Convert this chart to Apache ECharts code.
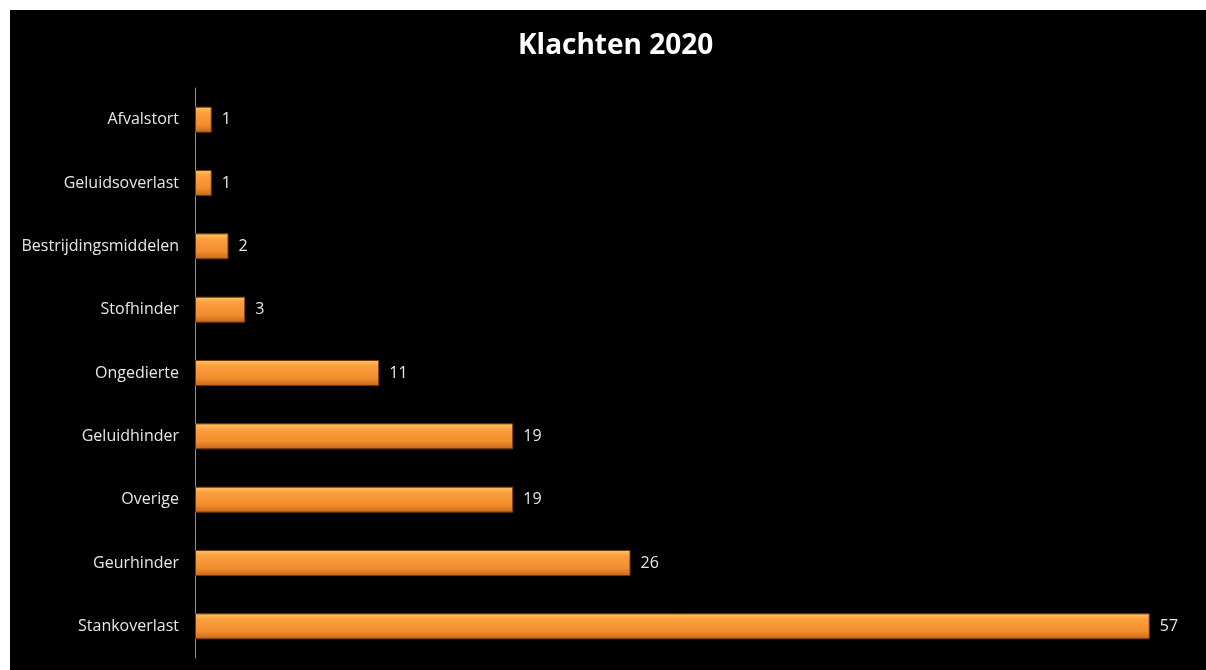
<!DOCTYPE html>
<html>
<head>
<meta charset="utf-8">
<script src="https://cdn.jsdelivr.net/npm/echarts@6/dist/echarts.min.js"></script>
<style>
  html, body { margin: 0; padding: 0; background: #fff; }
  #chart { position: absolute; left: 10px; top: 10px; width: 1196px; height: 660px; background: #000; }
</style>
</head>
<body>
<div id="chart"></div>
<script>
// bottom to top
const categories = ['Stankoverlast', 'Geurhinder', 'Overige', 'Geluidhinder', 'Ongedierte', 'Stofhinder', 'Bestrijdingsmiddelen', 'Geluidsoverlast', 'Afvalstort']
const values = [57, 26, 19, 19, 11, 3, 2, 1, 1]

const chart = echarts.init(document.getElementById('chart'))
const font = '"Open Sans", Lato, sans-serif'

chart.setOption({
  backgroundColor: '#000',
  animation: false,
  title: {
    text: 'Klachten 2020',
    left: 503,
    top: 17,
    textStyle: { color: '#fff', fontSize: 28, fontWeight: 'bold', fontFamily: font }
  },
  grid: { left: 185, right: 6, top: 78, bottom: 12 },
  xAxis: {
    type: 'value',
    min: 0,
    max: 60,
    show: false
  },
  yAxis: {
    type: 'category',
    data: categories,
    axisLine: { show: true, lineStyle: { color: '#8c8c8c', width: 1 } },
    axisTick: { show: false },
    axisLabel: { color: '#e6e6e6', fontSize: 16, fontFamily: font, margin: 16 }
  },
  series: [{
    type: 'bar',
    data: values,
    barWidth: '41%',
    itemStyle: {
      color: new echarts.graphic.LinearGradient(0, 0, 0, 1, [
        { offset: 0, color: '#ffc862' },
        { offset: 0.22, color: '#fba040' },
        { offset: 0.7, color: '#f28d2c' },
        { offset: 1, color: '#c8661a' }
      ]),
      borderColor: '#6e3a0e',
      borderWidth: 1
    },
    label: {
      show: true,
      position: 'right',
      distance: 10,
      color: '#e6e6e6',
      fontSize: 16,
      fontFamily: font
    }
  }]
})
</script>
</body>
</html>
